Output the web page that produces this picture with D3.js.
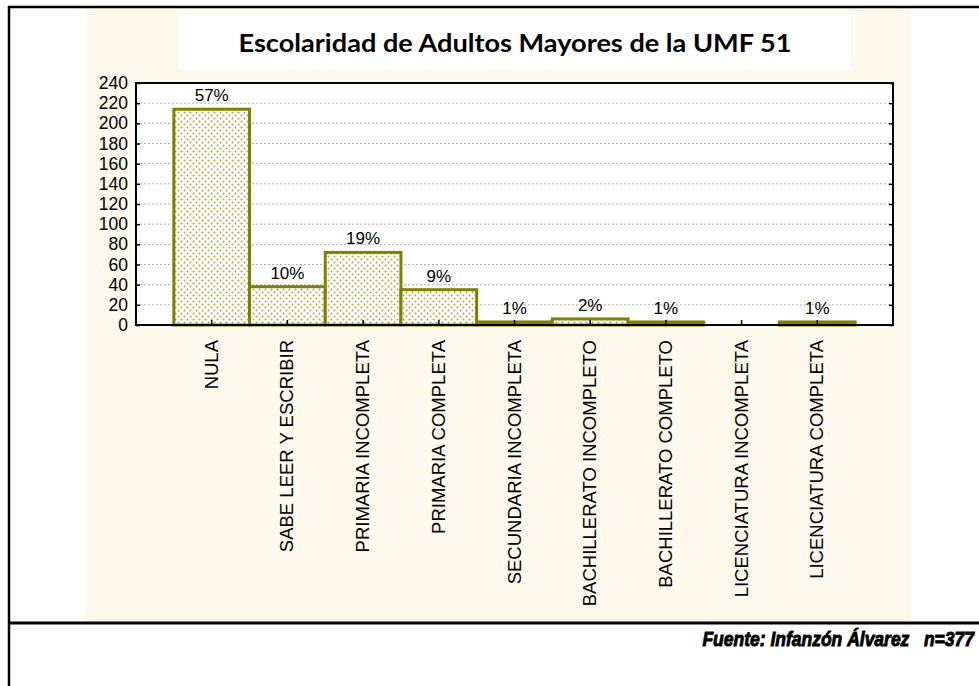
<!DOCTYPE html>
<html>
<head>
<meta charset="utf-8">
<script src="https://cdn.jsdelivr.net/npm/d3@7"></script>
<style>
  body { margin: 0; background: #fff; }
  svg { display: block; }
</style>
</head>
<body>
<div id="chart"></div>
<script>
const categories = ["NULA", "SABE LEER Y ESCRIBIR", "PRIMARIA INCOMPLETA", "PRIMARIA COMPLETA",
  "SECUNDARIA INCOMPLETA", "BACHILLERATO INCOMPLETO", "BACHILLERATO COMPLETO",
  "LICENCIATURA INCOMPLETA", "LICENCIATURA COMPLETA"];
const counts = [214, 38, 72, 35, 3, 6, 3, 0, 3];
const percentLabels = ["57%", "10%", "19%", "9%", "1%", "2%", "1%", "", "1%"];
const yTicks = [0, 20, 40, 60, 80, 100, 120, 140, 160, 180, 200, 220, 240];
const title = "Escolaridad de Adultos Mayores de la UMF 51";
const footer = "Fuente: Infanzón Álvarez   n=377";

const W = 979, H = 686;
const plot = { left: 136, right: 893, top: 83, bottom: 325 };

const svg = d3.select("#chart")
  .append("svg")
  .attr("width", W)
  .attr("height", H);

// dotted fill for the bars
const defs = svg.append("defs");
const pat = defs.append("pattern")
  .attr("id", "dots")
  .attr("patternUnits", "userSpaceOnUse")
  .attr("width", 6)
  .attr("height", 6);
pat.append("rect").attr("width", 6).attr("height", 6).attr("fill", "#fff");
pat.append("circle").attr("cx", 1.5).attr("cy", 1.5).attr("r", 0.95).attr("fill", "#a3a33a");
pat.append("circle").attr("cx", 4.5).attr("cy", 4.5).attr("r", 0.95).attr("fill", "#a3a33a");

// cream background panel
svg.append("rect")
  .attr("x", 86).attr("y", 8)
  .attr("width", 825).attr("height", 613)
  .attr("fill", "#fef9ed");

// title box
svg.append("rect")
  .attr("x", 179).attr("y", 14)
  .attr("width", 672).attr("height", 55)
  .attr("fill", "#fff");

svg.append("text")
  .attr("x", 515).attr("y", 52)
  .attr("text-anchor", "middle")
  .attr("font-family", "Lato, 'Open Sans', sans-serif")
  .attr("font-weight", "bold")
  .attr("font-size", 25)
  .attr("textLength", 553)
  .attr("lengthAdjust", "spacingAndGlyphs")
  .attr("fill", "#000")
  .text(title);

// plot area
svg.append("rect")
  .attr("x", plot.left).attr("y", plot.top)
  .attr("width", plot.right - plot.left).attr("height", plot.bottom - plot.top)
  .attr("fill", "#fff");

const x = d3.scaleBand()
  .domain(categories)
  .range([plot.left, plot.right])
  .paddingInner(0)
  .paddingOuter(0.5);

const y = d3.scaleLinear()
  .domain([0, 240])
  .range([plot.bottom, plot.top]);

// gridlines
svg.append("g")
  .selectAll("line")
  .data(yTicks.filter(d => d > 0 && d < 240))
  .join("line")
  .attr("x1", plot.left).attr("x2", plot.right)
  .attr("y1", d => y(d)).attr("y2", d => y(d))
  .attr("stroke", "#b4b4b4")
  .attr("stroke-width", 1)
  .attr("stroke-dasharray", "2,2");

// bars
svg.append("g")
  .selectAll("rect")
  .data(counts.map((v, i) => ({ cat: categories[i], v })).filter(d => d.v > 0))
  .join("rect")
  .attr("x", d => x(d.cat))
  .attr("y", d => y(d.v))
  .attr("width", x.bandwidth())
  .attr("height", d => y(0) - y(d.v))
  .attr("fill", "url(#dots)")
  .attr("stroke", "#7f7f00")
  .attr("stroke-width", 3);

// percentage labels
svg.append("g")
  .selectAll("text")
  .data(percentLabels.map((t, i) => ({ cat: categories[i], v: counts[i], t })))
  .join("text")
  .attr("x", d => x(d.cat) + x.bandwidth() / 2)
  .attr("y", d => y(d.v) - 8)
  .attr("text-anchor", "middle")
  .attr("font-family", "'Liberation Sans', Arial, sans-serif")
  .attr("font-size", 17)
  .attr("fill", "#000")
  .text(d => d.t);

// axes
const fontAx = "'Liberation Sans', Arial, sans-serif";

const yAxis = svg.append("g")
  .attr("transform", `translate(${plot.left},0)`)
  .call(d3.axisLeft(y).tickValues(yTicks).tickSize(-4).tickPadding(8));
yAxis.select(".domain").remove();
yAxis.selectAll("line").attr("stroke", "#000").attr("stroke-width", 1.5);
yAxis.selectAll("text")
  .attr("font-family", fontAx)
  .attr("font-size", 17.5)
  .attr("fill", "#000");

const yAxisR = svg.append("g")
  .attr("transform", `translate(${plot.right},0)`)
  .call(d3.axisRight(y).tickValues(yTicks).tickSize(-4).tickFormat(""));
yAxisR.select(".domain").remove();
yAxisR.selectAll("line").attr("stroke", "#000").attr("stroke-width", 1.5);

const xAxis = svg.append("g")
  .attr("transform", `translate(0,${plot.bottom})`)
  .call(d3.axisBottom(x).tickSize(-5).tickFormat(""));
xAxis.select(".domain").remove();
xAxis.selectAll("line").attr("stroke", "#000").attr("stroke-width", 1.5);

// category labels, rotated
svg.append("g")
  .selectAll("text")
  .data(categories)
  .join("text")
  .attr("transform", d => `translate(${x(d) + x.bandwidth() / 2 + 6},340) rotate(-90)`)
  .attr("text-anchor", "end")
  .attr("font-family", fontAx)
  .attr("font-size", 18.5)
  .attr("fill", "#000")
  .text(d => d);

// plot frame
svg.append("rect")
  .attr("x", plot.left).attr("y", plot.top)
  .attr("width", plot.right - plot.left).attr("height", plot.bottom - plot.top)
  .attr("fill", "none")
  .attr("stroke", "#000")
  .attr("stroke-width", 2);

// outer frame lines
svg.append("line")
  .attr("x1", 8).attr("x2", W).attr("y1", 7).attr("y2", 7)
  .attr("stroke", "#000").attr("stroke-width", 2.5);
svg.append("line")
  .attr("x1", 9).attr("x2", 9).attr("y1", 6).attr("y2", H)
  .attr("stroke", "#000").attr("stroke-width", 2.5);
svg.append("line")
  .attr("x1", 8).attr("x2", W).attr("y1", 623).attr("y2", 623)
  .attr("stroke", "#000").attr("stroke-width", 3);

// footer (heavy italic, a bit taller than wide)
svg.append("g")
  .attr("transform", "translate(0,646) scale(1,1.2)")
  .append("text")
  .attr("x", 974).attr("y", 0)
  .attr("text-anchor", "end")
  .attr("font-family", "'Liberation Sans', Arial, sans-serif")
  .attr("font-weight", "bold")
  .attr("font-style", "italic")
  .attr("font-size", 17.5)
  .attr("stroke", "#000")
  .attr("stroke-width", 0.8)
  .style("white-space", "pre")
  .attr("fill", "#000")
  .text(footer);
</script>
</body>
</html>
